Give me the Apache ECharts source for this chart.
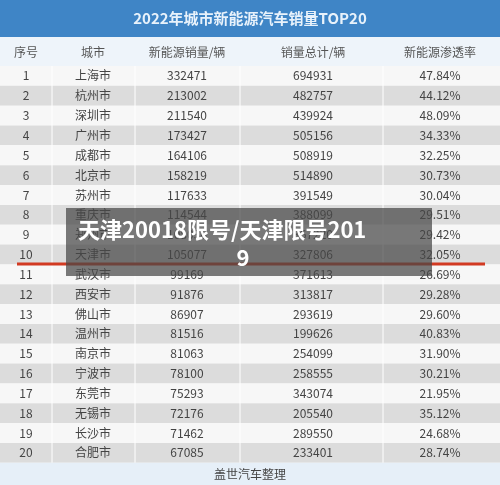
<!DOCTYPE html><html><head><meta charset="utf-8"><script src="https://cdn.jsdelivr.net/npm/echarts@6/dist/echarts.min.js"></script>
<style>html,body{margin:0;padding:0}#c{width:500px;height:485px}</style></head><body><div id="c"></div><script>
const headers=['序号','城市','新能源销量/辆','销量总计/辆','新能源渗透率'];
const cities=['上海市','杭州市','深圳市','广州市','成都市','北京市','苏州市','重庆市','郑州市','天津市','武汉市','西安市','佛山市','温州市','南京市','宁波市','东莞市','无锡市','长沙市','合肥市'];
const nevSales=[332471,213002,211540,173427,164106,158219,117633,114544,108036,105077,99169,91876,86907,81516,81063,78100,75293,72176,71462,67085];
const totalSales=[694931,482757,439924,505156,508919,514890,391549,388099,367220,327806,371613,313817,293619,199626,254099,258555,343074,205540,289550,233401];
const rates=['47.84%','44.12%','48.09%','34.33%','32.25%','30.73%','30.04%','29.51%','29.42%','32.05%','26.69%','29.28%','29.60%','40.83%','31.90%','30.21%','21.95%','35.12%','24.68%','28.74%'];
const F='"Noto Sans CJK SC","Noto Sans",sans-serif';
const colX=[26,93,187,313,440], seps=[52,135,240,383];
const top0=66, rh=19.84;
const g=[];
g.push({type:'rect',shape:{x:0,y:0,width:500,height:37},style:{fill:'#3f85c6'}});
g.push({type:'text',x:250,y:18,style:{text:'2022年城市新能源汽车销量TOP20',fill:'#e8f2fb',font:'bold 15px '+F,align:'center',verticalAlign:'middle'}});
g.push({type:'rect',shape:{x:0,y:37,width:500,height:29},style:{fill:'#eef4fa'}});
headers.forEach((h,i)=>g.push({type:'text',x:colX[i],y:52,style:{text:h,fill:'#555',font:'12px '+F,align:'center',verticalAlign:'middle'}}));
cities.forEach((c,r)=>{
 const y=top0+r*rh;
 g.push({type:'rect',shape:{x:0,y:y,width:500,height:rh},style:{fill:r%2?'#dcdcdc':'#f7f7f7'}});
 const vals=[String(r+1),c,String(nevSales[r]),String(totalSales[r]),rates[r]];
 vals.forEach((v,i)=>g.push({type:'text',x:colX[i],y:y+rh/2,style:{text:v,fill:'#444',font:'12px '+F,align:'center',verticalAlign:'middle'}}));
});
seps.forEach(x=>g.push({type:'line',shape:{x1:x,y1:66,x2:x,y2:top0+20*rh},style:{stroke:'#fff',lineWidth:1}}));
g.push({type:'rect',shape:{x:0,y:top0+20*rh,width:500,height:485-top0-20*rh},style:{fill:'#e6eff8'}});
g.push({type:'text',x:250,y:474,style:{text:'盖世汽车整理',fill:'#444',font:'12px '+F,align:'center',verticalAlign:'middle'}});
g.push({type:'line',shape:{x1:17,y1:264,x2:485,y2:264},style:{stroke:'#d23a22',lineWidth:3}});
g.push({type:'rect',shape:{x:66,y:208,width:366,height:68},style:{fill:'rgba(70,70,70,0.72)'}});
g.push({type:'text',x:78,y:230,style:{text:'天津20018限号/天津限号201',fill:'#fff',font:'bold 22px '+F,verticalAlign:'middle'}});
g.push({type:'text',x:243,y:258,style:{text:'9',fill:'#fff',font:'bold 22px '+F,align:'center',verticalAlign:'middle'}});
echarts.init(document.getElementById('c')).setOption({backgroundColor:'#fff',graphic:g});
</script></body></html>
